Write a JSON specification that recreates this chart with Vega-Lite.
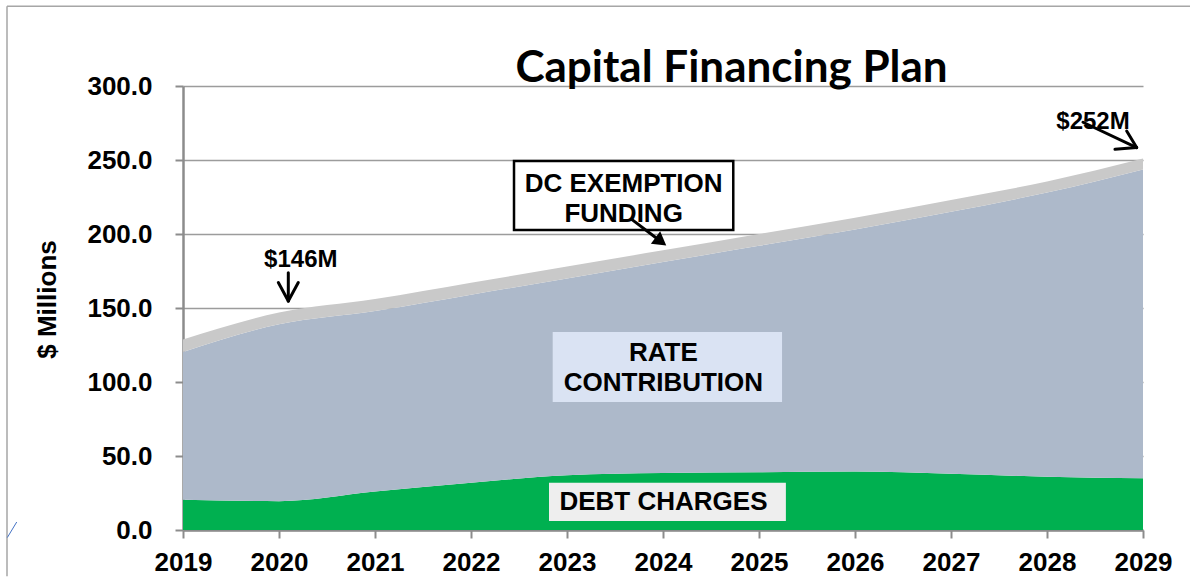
{
  "$schema": "https://vega.github.io/schema/vega-lite/v6.json",
  "width": 960,
  "height": 444,
  "autosize": {"type": "none"},
  "padding": {"left": 183, "top": 86, "right": 47, "bottom": 47},
  "background": "white",
  "config": {"view": {"stroke": null}},
  "layer": [
    {
      "data": {"values": [
        {"year": 2019, "series": "Debt Charges", "ord": 1, "value": 20.5},
        {"year": 2020, "series": "Debt Charges", "ord": 1, "value": 19.5},
        {"year": 2021, "series": "Debt Charges", "ord": 1, "value": 26},
        {"year": 2022, "series": "Debt Charges", "ord": 1, "value": 32},
        {"year": 2023, "series": "Debt Charges", "ord": 1, "value": 37},
        {"year": 2024, "series": "Debt Charges", "ord": 1, "value": 38.5},
        {"year": 2025, "series": "Debt Charges", "ord": 1, "value": 39},
        {"year": 2026, "series": "Debt Charges", "ord": 1, "value": 39.5},
        {"year": 2027, "series": "Debt Charges", "ord": 1, "value": 38},
        {"year": 2028, "series": "Debt Charges", "ord": 1, "value": 36},
        {"year": 2029, "series": "Debt Charges", "ord": 1, "value": 35},
        {"year": 2019, "series": "Rate Contribution", "ord": 2, "value": 99.8},
        {"year": 2020, "series": "Rate Contribution", "ord": 2, "value": 119.5},
        {"year": 2021, "series": "Rate Contribution", "ord": 2, "value": 122},
        {"year": 2022, "series": "Rate Contribution", "ord": 2, "value": 127},
        {"year": 2023, "series": "Rate Contribution", "ord": 2, "value": 133},
        {"year": 2024, "series": "Rate Contribution", "ord": 2, "value": 142.5},
        {"year": 2025, "series": "Rate Contribution", "ord": 2, "value": 153},
        {"year": 2026, "series": "Rate Contribution", "ord": 2, "value": 163.5},
        {"year": 2027, "series": "Rate Contribution", "ord": 2, "value": 177},
        {"year": 2028, "series": "Rate Contribution", "ord": 2, "value": 192},
        {"year": 2029, "series": "Rate Contribution", "ord": 2, "value": 208.6},
        {"year": 2019, "series": "DC Exemption Funding", "ord": 3, "value": 8.5},
        {"year": 2020, "series": "DC Exemption Funding", "ord": 3, "value": 7.9},
        {"year": 2021, "series": "DC Exemption Funding", "ord": 3, "value": 8},
        {"year": 2022, "series": "DC Exemption Funding", "ord": 3, "value": 8},
        {"year": 2023, "series": "DC Exemption Funding", "ord": 3, "value": 8},
        {"year": 2024, "series": "DC Exemption Funding", "ord": 3, "value": 8},
        {"year": 2025, "series": "DC Exemption Funding", "ord": 3, "value": 8},
        {"year": 2026, "series": "DC Exemption Funding", "ord": 3, "value": 8},
        {"year": 2027, "series": "DC Exemption Funding", "ord": 3, "value": 8},
        {"year": 2028, "series": "DC Exemption Funding", "ord": 3, "value": 7.5},
        {"year": 2029, "series": "DC Exemption Funding", "ord": 3, "value": 7.4}
      ]},
      "mark": {"type": "area", "interpolate": "monotone", "opacity": 1},
      "encoding": {
        "x": {
          "field": "year", "type": "quantitative", "title": null,
          "scale": {"domain": [2019, 2029], "nice": false, "zero": false},
          "axis": {
            "values": [2019, 2020, 2021, 2022, 2023, 2024, 2025, 2026, 2027, 2028, 2029],
            "format": "d", "title": null, "grid": false,
            "labelFont": "Liberation Sans", "labelFontSize": 26, "labelFontWeight": "bold", "labelColor": "black",
            "labelPadding": 11, "labelFlush": false, "labelOverlap": false,
            "tickSize": 8, "tickWidth": 2, "tickColor": "#8c8c8c",
            "domainColor": "#8c8c8c", "domainWidth": 2.5
          }
        },
        "y": {
          "field": "value", "type": "quantitative", "stack": "zero", "title": "$ Millions",
          "scale": {"domain": [0, 300], "nice": false},
          "axis": {
            "values": [0, 50, 100, 150, 200, 250, 300],
            "format": ".1f", "title": "$ Millions",
            "titleFont": "Liberation Sans", "titleFontSize": 26, "titleFontWeight": "bold", "titleColor": "black",
            "titleX": -136, "titleY": 213, "titleAngle": -90, "titleAlign": "center", "titleBaseline": "middle",
            "labelFont": "Liberation Sans", "labelFontSize": 26, "labelFontWeight": "bold", "labelColor": "black",
            "labelPadding": 23, "labelFlush": false,
            "tickSize": 8, "tickWidth": 2, "tickColor": "#8c8c8c",
            "domainColor": "#8c8c8c", "domainWidth": 2.5,
            "grid": true, "gridColor": "#9c9c9c", "gridWidth": 1.5
          }
        },
        "color": {
          "field": "series", "type": "nominal",
          "scale": {"domain": ["Debt Charges", "Rate Contribution", "DC Exemption Funding"], "range": ["#00b050", "#adb9ca", "#c9c9c9"]},
          "legend": null
        },
        "order": {"field": "ord", "type": "quantitative"}
      }
    },
    {
      "data": {"values": [
        {"x": 2017.1667, "y": 353.9, "x2": 2029.49, "y2": 353.9},
        {"x": 2017.1667, "y": 353.9, "x2": 2017.1667, "y2": -31.3}
      ]},
      "mark": {"type": "rule", "color": "#a6a6a6", "strokeWidth": 1.5},
      "encoding": {
        "x": {"field": "x", "type": "quantitative", "title": null},
        "y": {"field": "y", "type": "quantitative", "title": "$ Millions"},
        "x2": {"field": "x2"},
        "y2": {"field": "y2"}
      }
    },
    {
      "data": {"values": [
        {"x": 2017.170, "y": -5.1, "x2": 2017.268, "y2": 5.4}
      ]},
      "mark": {"type": "rule", "color": "#4472c4", "strokeWidth": 1},
      "encoding": {
        "x": {"field": "x", "type": "quantitative", "title": null},
        "y": {"field": "y", "type": "quantitative", "title": "$ Millions"},
        "x2": {"field": "x2"},
        "y2": {"field": "y2"}
      }
    },
    {
      "data": {"values": [
        {"name": "DC", "x": 2022.448, "y": 249.3, "x2": 2024.732, "y2": 202.7}
      ]},
      "mark": {"type": "rect", "fill": "white", "stroke": "black", "strokeWidth": 2.5},
      "encoding": {
        "x": {"field": "x", "type": "quantitative", "title": null},
        "y": {"field": "y", "type": "quantitative", "title": "$ Millions"},
        "x2": {"field": "x2"},
        "y2": {"field": "y2"}
      }
    },
    {
      "data": {"values": [
        {"name": "Rate", "x": 2022.851, "y": 133.8, "x2": 2025.24, "y2": 86.5}
      ]},
      "mark": {"type": "rect", "fill": "#dae3f3", "strokeWidth": 0},
      "encoding": {
        "x": {"field": "x", "type": "quantitative", "title": null},
        "y": {"field": "y", "type": "quantitative", "title": "$ Millions"},
        "x2": {"field": "x2"},
        "y2": {"field": "y2"}
      }
    },
    {
      "data": {"values": [
        {"name": "Debt", "x": 2022.8125, "y": 32.0, "x2": 2025.28, "y2": 6.1}
      ]},
      "mark": {"type": "rect", "fill": "#eeeeee", "strokeWidth": 0},
      "encoding": {
        "x": {"field": "x", "type": "quantitative", "title": null},
        "y": {"field": "y", "type": "quantitative", "title": "$ Millions"},
        "x2": {"field": "x2"},
        "y2": {"field": "y2"}
      }
    },
    {
      "data": {"values": [
        {"x": 2020.097, "y": 173.9, "x2": 2020.097, "y2": 154.7},
        {"x": 2020.097, "y": 154.7, "x2": 2019.993, "y2": 167.2},
        {"x": 2020.097, "y": 154.7, "x2": 2020.201, "y2": 167.2},
        {"x": 2028.375, "y": 275.5, "x2": 2028.934, "y2": 258.4},
        {"x": 2028.934, "y": 258.4, "x2": 2028.708, "y2": 257.2},
        {"x": 2028.934, "y": 258.4, "x2": 2028.830, "y2": 269.6},
        {"x": 2023.674, "y": 209.9, "x2": 2023.978, "y2": 194.9}
      ]},
      "mark": {"type": "rule", "color": "black", "strokeWidth": 3, "strokeCap": "round"},
      "encoding": {
        "x": {"field": "x", "type": "quantitative", "title": null},
        "y": {"field": "y", "type": "quantitative", "title": "$ Millions"},
        "x2": {"field": "x2"},
        "y2": {"field": "y2"}
      }
    },
    {
      "data": {"values": [
        {"x": 2023.978, "y": 194.9}
      ]},
      "mark": {"type": "point", "shape": "triangle-up", "filled": true, "color": "black", "opacity": 1, "size": 240, "angle": 127},
      "encoding": {
        "x": {"field": "x", "type": "quantitative", "title": null},
        "y": {"field": "y", "type": "quantitative", "title": "$ Millions"}
      }
    },
    {
      "data": {"values": [
        {"x": 2023.59, "y": 234.0, "label": "DC EXEMPTION"},
        {"x": 2023.59, "y": 213.3, "label": "FUNDING"},
        {"x": 2024.004, "y": 119.9, "label": "RATE"},
        {"x": 2024.004, "y": 99.3, "label": "CONTRIBUTION"},
        {"x": 2024.005, "y": 18.9, "label": "DEBT CHARGES"}
      ]},
      "mark": {"type": "text", "font": "Liberation Sans", "fontSize": 26, "fontWeight": "bold", "color": "black", "align": "center", "baseline": "middle"},
      "encoding": {
        "x": {"field": "x", "type": "quantitative", "title": null},
        "y": {"field": "y", "type": "quantitative", "title": "$ Millions"},
        "text": {"field": "label"}
      }
    },
    {
      "data": {"values": [
        {"x": 2020.227, "y": 182.2, "label": "$146M"},
        {"x": 2028.479, "y": 275.8, "label": "$252M"}
      ]},
      "mark": {"type": "text", "font": "Liberation Sans", "fontSize": 24, "fontWeight": "bold", "color": "black", "align": "center", "baseline": "middle"},
      "encoding": {
        "x": {"field": "x", "type": "quantitative", "title": null},
        "y": {"field": "y", "type": "quantitative", "title": "$ Millions"},
        "text": {"field": "label"}
      }
    },
    {
      "data": {"values": [
        {"x": 2024.714, "y": 302.5, "label": "Capital Financing Plan"}
      ]},
      "mark": {"type": "text", "font": "Lato", "fontSize": 44, "fontWeight": "bold", "color": "black", "align": "center", "baseline": "alphabetic"},
      "encoding": {
        "x": {"field": "x", "type": "quantitative", "title": null},
        "y": {"field": "y", "type": "quantitative", "title": "$ Millions"},
        "text": {"field": "label"}
      }
    }
  ]
}
